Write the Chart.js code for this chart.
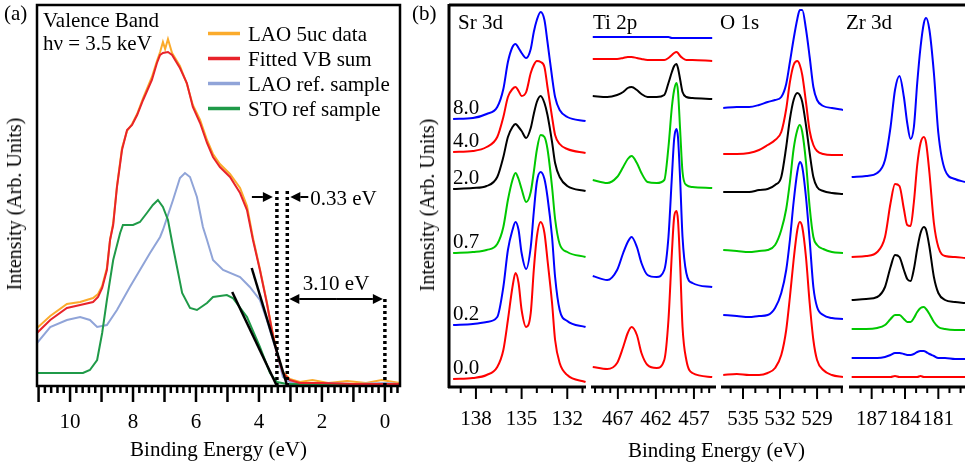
<!DOCTYPE html>
<html lang="en">
<head>
<meta charset="utf-8">
<title>Valence band and core levels</title>
<script src="https://cdn.jsdelivr.net/npm/chart.js@4.4.1/dist/chart.umd.min.js"></script>
<style>
    html, body { margin: 0; background: #fff; }
    #figure { position: relative; width: 965px; height: 463px; overflow: hidden; color: #000;
              font-family: "Liberation Serif", "Times New Roman", serif; }
    #figure canvas { position: absolute; top: 0; }
    .fig-text { position: absolute; font-size: 21px; line-height: 21px; white-space: nowrap; }
    .fig-ytitle { position: absolute; font-size: 20px; line-height: 20px; white-space: nowrap;
                  transform: translate(-50%, -50%) rotate(-90deg); }
</style>
</head>
<body>
<div id="figure">
    <canvas id="vb-chart" width="415" height="463" style="left:0"></canvas>
    <canvas id="sr-chart" width="169" height="463" style="left:420px"></canvas>
    <canvas id="ti-chart" width="130" height="463" style="left:589px"></canvas>
    <canvas id="o-chart" width="127" height="463" style="left:719px"></canvas>
    <canvas id="zr-chart" width="119" height="463" style="left:846px"></canvas>

    <div class="fig-text" style="left:4px;top:3px">(a)</div>
    <div class="fig-text" style="left:412px;top:3px">(b)</div>
    <div class="fig-ytitle" style="left:14px;top:204px">Intensity (Arb. Units)</div>
    <div class="fig-ytitle" style="left:427px;top:205px">Intensity (Arb. Units)</div>
    <div class="fig-text" style="left:628px;top:440px">Binding Energy (eV)</div>
</div>

<script>
const SERIF = '"Liberation Serif", "Times New Roman", serif';

// ---------- (a) valence band, binding energy (eV) vs intensity (arb.) ----------
const vbTickValues = [10, 8, 6, 4, 2, 0];

const lao5ucEnergy = [11.05, 10.63, 10.10, 9.68, 9.27, 9.11, 8.98, 8.83, 8.73, 8.63, 8.51, 8.35, 8.19, 8.03, 7.87, 7.68,
    7.40, 7.24, 7.14, 7.05, 6.98, 6.89, 6.76, 6.51, 6.29, 6.10, 5.87, 5.65, 5.46, 5.24, 4.92, 4.60, 4.38, 4.19, 3.97,
    3.75, 3.59, 3.43, 3.24, 3.02, 2.70, 2.3, 1.8, 1.2, 0.6, 0.1, -0.48];
const lao5ucCounts = [58, 70, 82, 84, 88, 92, 100, 118, 146, 163, 200, 238, 255, 262, 272, 288,
    309, 325, 334, 344, 337, 347, 333, 320, 302, 281, 266, 246, 232, 222, 212, 198, 180, 148, 117,
    84, 57, 34, 14, 7, 4, 6, 3, 5, 3, 6, 3];

const vbFitEnergy = [11.05, 10.63, 10.10, 9.68, 9.27, 9.11, 8.98, 8.83, 8.73, 8.63, 8.51, 8.35, 8.19, 8.03, 7.87, 7.68,
    7.40, 7.24, 7.14, 7.05, 6.89, 6.76, 6.51, 6.29, 6.10, 5.87, 5.65, 5.46, 5.24, 4.92, 4.60, 4.38, 4.19, 3.97,
    3.75, 3.59, 3.43, 3.24, 3.02, 2.70, 2.0, 1.0, 0.0, -0.48];
const vbFitCounts = [53, 66, 78, 81, 84, 89, 98, 116, 146, 161, 199, 236, 256, 261, 271, 286,
    306, 323, 331, 333, 334, 331, 318, 303, 279, 263, 243, 229, 219, 209, 193, 176, 146, 116,
    83, 56, 33, 13, 6, 3, 3, 2, 2, 2];

const laoRefEnergy = [11.05, 10.63, 10.10, 9.68, 9.37, 9.14, 8.83, 8.51, 8.10, 7.78, 7.46, 7.14, 7.05, 6.73, 6.51, 6.35,
    6.19, 5.97, 5.78, 5.65, 5.46, 5.14, 4.60, 4.29, 3.97, 3.75, 3.43, 3.24, 3.02, 2.70, 2.0, 1.0, 0.0, -0.48];
const laoRefCounts = [43, 59, 66, 69, 66, 59, 61, 76, 99, 116, 133, 149, 156, 186, 208, 213,
    209, 189, 159, 146, 126, 116, 109, 99, 86, 66, 33, 9, 4, 2, 3, 2, 3, 2];

const stoRefEnergy = [11.05, 9.59, 9.37, 9.14, 8.98, 8.83, 8.63, 8.41, 8.32, 8.00, 7.78, 7.56, 7.37, 7.21, 7.05, 6.89,
    6.73, 6.44, 6.19, 5.97, 5.65, 5.46, 5.02, 4.83, 4.38, 3.97, 3.65, 3.43, 3.11, 2.5, 1.0, -0.48];
const stoRefCounts = [13, 13, 16, 26, 53, 86, 126, 153, 161, 161, 164, 173, 181, 186, 179, 166,
    139, 93, 78, 76, 83, 89, 91, 88, 69, 39, 13, 4, 2, 2, 1, 2];

// linear leading-edge fits and the onset markers they give
const stoEdgeEnergy = [4.85, 3.43];
const stoEdgeCounts = [94, 0];
const laoEdgeEnergy = [4.23, 3.10];
const laoEdgeCounts = [118, 0];
const onsetEnergy = [3.43, 3.10, 0];
const onsetTop = [198, 198, 89];

// ---------- (b) core levels vs LAO thickness (uc) ----------
const coreThickness = ["0.0", "0.2", "0.7", "2.0", "4.0", "8.0"];
const coreColors = ["#ff0000", "#0000ff", "#00c800", "#000000", "#ff0000", "#0000ff"];

const srTickValues = [138, 135, 132];
const srEnergy = [139.5, 138.2, 137.3, 136.6, 136.2, 135.9, 135.6, 135.4, 135.2, 135.0, 134.7, 134.4, 134.2, 134.0,
    133.75, 133.5, 133.3, 133.0, 132.8, 132.5, 132.0, 130.8];
const sr00 = [8, 9, 12, 20, 37, 67, 100, 114, 104, 77, 60, 74, 117, 150, 165, 154, 127, 84, 47, 24, 12, 5];
const sr02 = [62, 63, 65, 70, 100, 137, 157, 165, 157, 134, 118, 140, 175, 205, 215, 208, 190, 150, 110, 77, 66, 60];
const sr07 = [134, 135, 137, 143, 160, 187, 207, 214, 208, 198, 185, 195, 215, 237, 252, 250, 238, 200, 168, 143, 135, 130];
const sr20 = [198, 199, 201, 210, 230, 250, 260, 263, 260, 256, 249, 259, 273, 285, 291, 284, 272, 245, 224, 210, 201, 196];
const sr40 = [235, 236, 240, 250, 270, 290, 298, 300, 296, 291, 295, 314, 322, 326, 325, 320, 300, 270, 252, 243, 238, 234];
const sr80 = [268, 269, 273, 280, 298, 325, 340, 343, 339, 334, 329, 338, 355, 367, 375, 367, 345, 310, 290, 277, 270, 266];

const tiTickValues = [467, 462, 457];
const tiEnergy = [470.3, 468.4, 467.1, 466.3, 465.7, 465.2, 464.5, 463.9, 463.1, 461.9, 460.9, 460.35, 459.9, 459.6,
    459.3, 459.1, 458.8, 458.5, 458.0, 457.2, 454.6];
const ti00 = [20, 18, 24, 40, 54, 60, 52, 34, 22, 19, 27, 67, 134, 170, 176, 167, 120, 60, 27, 14, 10];
const ti02 = [111, 107, 117, 134, 145, 150, 140, 124, 112, 110, 117, 150, 210, 248, 258, 250, 205, 150, 114, 104, 100];
const ti07 = [207, 204, 210, 220, 228, 231, 224, 214, 205, 204, 207, 240, 280, 297, 304, 296, 255, 215, 202, 200, 199];
const ti20 = [291, 290, 292, 295, 299, 300, 297, 293, 290, 290, 292, 304, 315, 321, 323, 319, 307, 295, 290, 289, 288];
const ti40 = [328, 328, 328, 329, 330, 330, 329, 328, 327, 327, 327, 329, 332, 334, 335, 334, 331, 329, 327, 327, 326];
const ti80 = [350, 350, 350, 350, 350, 350, 350, 350, 350, 350, 350, 350, 349, 349, 349, 349, 349, 349, 349, 349, 349];

const oTickValues = [535, 532, 529];
const oEnergy = [536.6, 535.5, 534.5, 533.7, 533.0, 532.4, 531.9, 531.5, 531.2, 530.9, 530.6, 530.4, 530.2, 529.9,
    529.6, 529.3, 529.0, 528.5, 527.8, 526.9];
const o00 = [12, 13, 12, 12, 14, 19, 32, 57, 90, 127, 157, 165, 160, 130, 84, 47, 27, 17, 12, 10];
const o02 = [72, 71, 70, 71, 72, 79, 94, 117, 147, 185, 215, 225, 220, 190, 147, 100, 80, 72, 69, 68];
const o07 = [137, 136, 135, 136, 137, 142, 157, 178, 205, 238, 257, 262, 255, 225, 180, 150, 142, 138, 135, 134];
const o20 = [195, 195, 195, 197, 198, 202, 210, 240, 268, 287, 294, 292, 285, 262, 234, 210, 200, 196, 194, 193];
const o40 = [233, 233, 234, 237, 242, 247, 255, 278, 305, 322, 326, 322, 312, 285, 256, 242, 236, 233, 232, 232];
const o80 = [279, 280, 280, 282, 285, 287, 290, 303, 325, 348, 368, 377, 377, 358, 330, 300, 287, 281, 279, 277];

const zrTickValues = [187, 184, 181];
const zrEnergy = [188.8, 187.5, 186.5, 185.8, 185.3, 184.9, 184.5, 184.1, 183.8, 183.5, 183.2, 182.9, 182.6, 182.3,
    182.1, 181.8, 181.4, 181.0, 180.4, 179.5, 178.6];
const zr00 = [10, 10, 10, 10, 10, 11, 10, 10, 10, 10, 10, 10, 11, 10, 10, 10, 10, 10, 10, 10, 10];
const zr02 = [29, 29, 29, 30, 32, 34, 34, 33, 32, 32, 33, 35, 36, 36, 35, 33, 31, 29, 29, 28, 28];
const zr07 = [58, 58, 59, 62, 68, 72, 72, 68, 65, 65, 69, 75, 79, 80, 78, 73, 65, 60, 58, 57, 57];
const zr20 = [87, 88, 90, 100, 120, 132, 130, 117, 108, 106, 118, 138, 154, 160, 157, 140, 110, 94, 87, 85, 84];
const zr40 = [130, 131, 135, 150, 184, 203, 201, 178, 162, 161, 185, 222, 244, 250, 244, 214, 164, 140, 131, 130, 129];
const zr80 = [210, 211, 214, 227, 260, 297, 311, 290, 264, 248, 260, 304, 340, 364, 369, 357, 314, 254, 217, 208, 205];


const toPoints = (energy, counts) => energy.map((e, i) => ({ x: e, y: counts[i] }));

// tick marks, frame and axis lines drawn off the x scale
const axisFrame = {
    id: "axisFrame",
    afterDraw(chart, args, opts) {
        const { ctx, chartArea: a, scales: { x } } = chart;
        const lo = Math.min(x.min, x.max);
        const hi = Math.max(x.min, x.max);

        ctx.save();
        ctx.strokeStyle = "#000";
        ctx.lineWidth = opts.tickWidth;
        for (let n = Math.ceil(lo / opts.minorStep - 1e-9); n * opts.minorStep <= hi + 1e-9; n++) {
            const v = n * opts.minorStep;
            const k = (v - opts.majorFrom) / opts.majorStep;
            const len = Math.abs(k - Math.round(k)) < 1e-6 ? opts.majorLen : opts.minorLen;
            const px = x.getPixelForValue(v);
            ctx.beginPath();
            ctx.moveTo(px, a.bottom);
            ctx.lineTo(px, a.bottom + len);
            ctx.stroke();
        }

        ctx.lineWidth = opts.frameWidth;
        if (opts.box) {
            ctx.strokeRect(a.left, a.top, a.right - a.left, a.bottom - a.top);
        } else {
            ctx.beginPath();
            ctx.moveTo(a.left - 1, a.bottom);
            ctx.lineTo(a.right, a.bottom);
            ctx.moveTo(opts.leftEdge ? a.left : 0, a.top);
            ctx.lineTo(chart.width, a.top);
            if (opts.leftEdge) {
                ctx.moveTo(a.left, a.top - 1);
                ctx.lineTo(a.left, a.bottom + 1);
            }
            ctx.stroke();
        }
        ctx.restore();
    },
};

function drawArrow(ctx, x0, y0, x1, y1) {
    const ang = Math.atan2(y1 - y0, x1 - x0);
    const head = 10, half = 5;
    const c = Math.cos(ang), s = Math.sin(ang);
    ctx.beginPath();
    ctx.moveTo(x0, y0);
    ctx.lineTo(x1 - head * c, y1 - head * s);
    ctx.stroke();
    ctx.beginPath();
    ctx.moveTo(x1, y1);
    ctx.lineTo(x1 - head * c + half * s, y1 - head * s - half * c);
    ctx.lineTo(x1 - head * c - half * s, y1 - head * s + half * c);
    ctx.closePath();
    ctx.fill();
}

// legend, heading and gap annotations of the valence band panel
const vbNotes = {
    id: "vbNotes",
    afterDraw(chart, args, opts) {
        const { ctx, scales: { x, y } } = chart;
        ctx.save();
        ctx.font = `21px ${SERIF}`;
        ctx.fillStyle = "#000";
        ctx.textBaseline = "alphabetic";

        opts.heading.forEach(h => ctx.fillText(h.text, h.x, h.y));

        chart.data.datasets.filter(d => d.label).forEach((d, i) => {
            const base = opts.legendY + i * opts.legendGap;
            ctx.strokeStyle = d.borderColor;
            ctx.lineWidth = 3.5;
            ctx.beginPath();
            ctx.moveTo(opts.legendX, base - 7.5);
            ctx.lineTo(opts.legendX + 32, base - 7.5);
            ctx.stroke();
            ctx.fillText(d.label, opts.legendX + 40, base);
        });

        ctx.strokeStyle = "#000";
        ctx.lineWidth = 2;
        const left = x.getPixelForValue(onsetEnergy[0]);
        const right = x.getPixelForValue(onsetEnergy[1]);
        const zero = x.getPixelForValue(onsetEnergy[2]);

        const gy = y.getPixelForValue(opts.gapArrowY);
        drawArrow(ctx, left - 25, gy, left - 4, gy);
        drawArrow(ctx, right + 21, gy, right + 3, gy);
        ctx.fillText(opts.gapText, right + 23, gy + 8);

        const oy = y.getPixelForValue(opts.onsetArrowY);
        drawArrow(ctx, (right + zero) / 2, oy, right + 2, oy);
        drawArrow(ctx, (right + zero) / 2, oy, zero - 2, oy);
        ctx.textAlign = "center";
        ctx.fillText(opts.onsetText, (right + zero) / 2, oy - 9);
        ctx.restore();
    },
};

// core level heading and thickness labels
const coreNotes = {
    id: "coreNotes",
    afterDraw(chart, args, opts) {
        const { ctx, chartArea: a, scales: { y } } = chart;
        ctx.save();
        ctx.font = `21px ${SERIF}`;
        ctx.fillStyle = "#000";
        ctx.textBaseline = "alphabetic";
        ctx.fillText(opts.title, a.left + opts.titleDx, 29);
        if (opts.thickness) {
            chart.data.datasets.forEach(d => {
                ctx.fillText(d.label, a.left + 4, y.getPixelForValue(d.data[0].y) - 5);
            });
        }
        ctx.restore();
    },
};

function energyAxis(range, tickValues, labelPadding, height) {
    return {
        type: "linear",
        reverse: true,
        min: range[0],
        max: range[1],
        afterBuildTicks: scale => { scale.ticks = tickValues.map(value => ({ value })); },
        afterFit: scale => {
            // labels sit well inside the plot, keep the plot width fixed
            scale.height = height;
            scale.paddingLeft = 0;
            scale.paddingRight = 0;
        },
        grid: { display: false, drawTicks: false },
        border: { display: false },
        ticks: {
            padding: labelPadding,
            autoSkip: false,
            maxRotation: 0,
            color: "#000",
            font: { family: SERIF, size: 21 },
            callback: v => String(v),
        },
    };
}

function valenceChart() {
    const edge = (energy, counts) => ({
        data: toPoints(energy, counts), borderColor: "#000", borderWidth: 2.5, order: 0,
    });
    const onsets = onsetEnergy.map((e, i) => ({
        data: [{ x: e, y: 0 }, { x: e, y: onsetTop[i] }],
        borderColor: "#000", borderWidth: 3.5, borderDash: [3, 3], order: 0,
    }));

    const xAxis = energyAxis([-0.48, 11.05], vbTickValues, 24, 77);
    xAxis.title = { display: true, text: "Binding Energy (eV)", color: "#000", padding: 0, font: { family: SERIF, size: 21 } };

    return new Chart(document.getElementById("vb-chart"), {
        type: "line",
        data: {
            datasets: [
                { label: "LAO 5uc data", data: toPoints(lao5ucEnergy, lao5ucCounts), borderColor: "#fbab2c", order: 4 },
                { label: "Fitted VB sum", data: toPoints(vbFitEnergy, vbFitCounts), borderColor: "#e8232a", order: 1 },
                { label: "LAO ref. sample", data: toPoints(laoRefEnergy, laoRefCounts), borderColor: "#90a4d8", order: 3 },
                { label: "STO ref sample", data: toPoints(stoRefEnergy, stoRefCounts), borderColor: "#1f9a48", order: 2 },
                edge(stoEdgeEnergy, stoEdgeCounts),
                edge(laoEdgeEnergy, laoEdgeCounts),
                ...onsets,
            ],
        },
        options: {
            responsive: false,
            animation: false,
            devicePixelRatio: 1,
            events: [],
            layout: { padding: { left: 37, right: 15, top: 5, bottom: 0 } },
            elements: { point: { radius: 0 }, line: { borderWidth: 2, tension: 0 } },
            plugins: {
                legend: { display: false },
                tooltip: { enabled: false },
                axisFrame: { minorStep: 0.2, majorStep: 1, majorFrom: 0, minorLen: 7, majorLen: 16, tickWidth: 2.5, frameWidth: 2.5, box: true },
                vbNotes: {
                    heading: [{ text: "Valence Band", x: 43, y: 27 }, { text: "h\u03bd = 3.5 keV", x: 43, y: 50 }],
                    legendX: 208, legendY: 41, legendGap: 25,
                    gapArrowY: 189, gapText: "0.33 eV",
                    onsetArrowY: 87, onsetText: "3.10 eV",
                },
            },
            scales: { x: xAxis, y: { display: false, min: 0, max: 381 } },
        },
        plugins: [axisFrame, vbNotes],
    });
}

function coreChart(id, title, titleDx, energy, traces, range, tickValues, majorFrom, padding, thickness) {
    return new Chart(document.getElementById(id), {
        type: "line",
        data: {
            datasets: traces.map((t, i) => ({
                label: coreThickness[i], data: toPoints(energy, t), borderColor: coreColors[i],
            })),
        },
        options: {
            responsive: false,
            animation: false,
            devicePixelRatio: 1,
            events: [],
            layout: { padding: { left: padding[0], right: padding[1], top: 5, bottom: 0 } },
            elements: { point: { radius: 0 }, line: { borderWidth: 2, cubicInterpolationMode: "monotone" } },
            plugins: {
                legend: { display: false },
                tooltip: { enabled: false },
                axisFrame: {
                    minorStep: 1, majorStep: tickValues[0] - tickValues[1], majorFrom,
                    minorLen: 6, majorLen: 12, tickWidth: 2, frameWidth: 3, box: false, leftEdge: thickness,
                },
                coreNotes: { title, titleDx, thickness },
            },
            scales: { x: energyAxis(range, tickValues, 20, 76), y: { display: false, min: 0, max: 382 } },
        },
        plugins: [axisFrame, coreNotes],
    });
}

valenceChart();
coreChart("sr-chart", "Sr 3d", 9, srEnergy, [sr00, sr02, sr07, sr20, sr40, sr80], [130.77, 139.77], srTickValues, 132, [29, 3], true);
coreChart("ti-chart", "Ti 2p", 1, tiEnergy, [ti00, ti02, ti07, ti20, ti40, ti80], [454.1, 470.4], tiTickValues, 457, [3, 3], false);
coreChart("o-chart", "O 1s", -2, oEnergy, [o00, o02, o07, o20, o40, o80], [526.9, 536.7], oTickValues, 529, [3, 3], false);
coreChart("zr-chart", "Zr 3d", -4, zrEnergy, [zr00, zr02, zr07, zr20, zr40, zr80], [178.6, 188.95], zrTickValues, 181, [4, 0], false);
</script>
</body>
</html>
